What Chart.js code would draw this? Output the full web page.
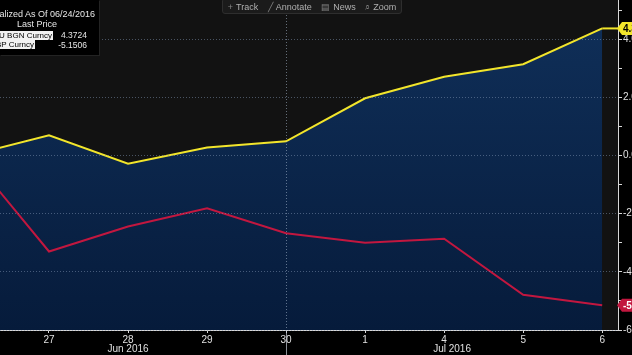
<!DOCTYPE html>
<html>
<head>
<meta charset="utf-8">
<script src="https://cdn.jsdelivr.net/npm/chart.js@4"></script>
<style>
html,body{margin:0;padding:0;background:#000;width:632px;height:355px;overflow:hidden;}
#wrap{position:relative;width:632px;height:355px;overflow:hidden;}
#c{position:absolute;left:0;top:0;}
.t{position:absolute;font:9px "Liberation Sans",Arial,sans-serif;color:#e6e6e6;white-space:nowrap;line-height:10px;}
.r{font-size:8.5px;}
.name{background:#f2f2f2;color:#000;padding:0 1px 0 0;line-height:9px;height:9px;font-size:8px;}
#legbox{position:absolute;left:0;top:0;width:99px;height:55px;background:#000;box-shadow:1px 1px 0 #232323;}
#toolbar{position:absolute;left:222px;top:-2px;width:180px;height:16px;background:#1b1b1b;border:1px solid #2e2e2e;border-radius:3px;display:flex;justify-content:space-around;align-items:center;font:9px "Liberation Sans",Arial,sans-serif;color:#b0b0b0;box-sizing:border-box;padding-top:2px;}
#toolbar span .ic{color:#858585;margin-right:3px;}
</style>
</head>
<body>
<div id="wrap">
<canvas id="c" width="632" height="355"></canvas>
<div id="legbox"></div>
<div class="t" id="lgTitle" style="right:537px;top:9px;"></div>
<div class="t" style="left:0;width:74px;text-align:center;top:19px;">Last Price</div>
<div class="t name" id="n0" style="right:579px;top:31px;"></div>
<div class="t r" id="v0" style="right:545px;top:30px;"></div>
<div class="t name" id="n1" style="right:597px;top:40px;"></div>
<div class="t r" id="v1" style="right:545px;top:40px;"></div>
<div id="toolbar"><span><span class="ic">+</span>Track</span><span><span class="ic">&#x2571;</span>Annotate</span><span><span class="ic">&#x25A4;</span>News</span><span><span class="ic">&#x2315;</span>Zoom</span></div>
</div>
<script>
// ---- data ----
const dates = ['2016-06-24','2016-06-27','2016-06-28','2016-06-29','2016-06-30','2016-07-01','2016-07-04','2016-07-05','2016-07-06'];
const seriesNames = ['XAU BGN Curncy','GBP Curncy'];
const xauValues = [0, 0.70, -0.28, 0.28, 0.49, 1.97, 2.71, 3.14, 4.3724];
const gbpValues = [0, -3.30, -2.44, -1.81, -2.67, -3.00, -2.86, -4.79, -5.1506];
const yTickValues = [-6,-5,-4,-3,-2,-1,0,1,2,3,4,5];
const normalizedAsOf = '06/24/2016';
const monthNames = ['Jan','Feb','Mar','Apr','May','Jun','Jul','Aug','Sep','Oct','Nov','Dec'];

const dayLabels = dates.map(d => String(+d.slice(8)));
const monthKeys = dates.map(d => d.slice(0,7));
const groups = [];
monthKeys.forEach((k,i) => {
  if (!groups.length || groups[groups.length-1].key !== k) groups.push({key:k, first:i, last:i});
  else groups[groups.length-1].last = i;
});
const monthEndIdx = groups.slice(0,-1).map(g => g.last);

document.getElementById('lgTitle').textContent = 'Normalized As Of ' + normalizedAsOf;
document.getElementById('n0').textContent = seriesNames[0];
document.getElementById('n1').textContent = seriesNames[1];
document.getElementById('v0').textContent = xauValues[xauValues.length-1].toFixed(4);
document.getElementById('v1').textContent = gbpValues[gbpValues.length-1].toFixed(4);

const FONT = '"Liberation Sans",Arial,sans-serif';
Chart.defaults.font.family = FONT;
Chart.defaults.font.size = 10;
Chart.defaults.color = '#e0e0e0';

const YEL = '#f2e52b';
const RED = '#c2173f';

const bgPlugin = {
  id:'bg',
  beforeDraw(chart){
    const {ctx, chartArea:a} = chart;
    ctx.save();
    ctx.fillStyle = '#000';
    ctx.fillRect(0,0,chart.width,chart.height);
    ctx.fillStyle = '#121212';
    ctx.fillRect(0,0,a.right,a.bottom);
    ctx.restore();
  }
};

const extraPlugin = {
  id:'extra',
  afterDraw(chart){
    const {ctx, chartArea:a, scales:{x,y}} = chart;
    ctx.save();
    ctx.strokeStyle = 'rgba(200,205,215,0.7)';
    ctx.lineWidth = 1;
    monthEndIdx.forEach(i => {
      const px = Math.round(x.getPixelForValue(i)) + 0.5;
      ctx.beginPath(); ctx.moveTo(px, a.bottom); ctx.lineTo(px, chart.height); ctx.stroke();
    });
    ctx.fillStyle = '#e0e0e0';
    ctx.font = '10px ' + FONT;
    ctx.textAlign = 'center'; ctx.textBaseline = 'middle';
    groups.forEach((g,gi) => {
      const start = gi === 0 ? g.first : groups[gi-1].last;
      const endPx = gi === groups.length-1 ? a.right : x.getPixelForValue(g.last);
      const cx = (x.getPixelForValue(start) + endPx) / 2;
      const [yy,mm] = g.key.split('-');
      ctx.fillText(monthNames[+mm-1] + ' ' + yy, cx, 349.5);
    });
    const n = dates.length - 1;
    const lastX = x.getPixelForValue(n);
    const yy0 = y.getPixelForValue(xauValues[n]);
    ctx.strokeStyle = YEL; ctx.lineWidth = 2;
    ctx.beginPath(); ctx.moveTo(lastX, yy0); ctx.lineTo(a.right, yy0); ctx.stroke();
    const tags = [[xauValues[n], YEL, '#000'], [gbpValues[n], RED, '#fff']];
    tags.forEach(([v, bg, fg]) => {
      const py = y.getPixelForValue(v);
      const L = a.right;
      ctx.fillStyle = bg;
      ctx.beginPath();
      ctx.moveTo(L - 1, py);
      ctx.lineTo(L + 4, py - 6.5);
      ctx.lineTo(L + 40, py - 6.5);
      ctx.lineTo(L + 40, py + 6.5);
      ctx.lineTo(L + 4, py + 6.5);
      ctx.closePath(); ctx.fill();
      ctx.fillStyle = fg;
      ctx.font = 'bold 10px ' + FONT;
      ctx.textAlign = 'left';
      ctx.fillText(v.toFixed(4), L + 5, py + 0.5);
    });
    ctx.restore();
  }
};

new Chart(document.getElementById('c'), {
  type:'line',
  data:{
    datasets:[
      {
        label: seriesNames[0],
        data: xauValues.map((v,i) => ({x:i, y:v})),
        borderColor: YEL,
        borderWidth: 2,
        pointRadius: 0,
        tension: 0,
        fill: 'start',
        backgroundColor: (c) => {
          const ch = c.chart; const a = ch.chartArea;
          if (!a) return '#0a2547';
          const g = ch.ctx.createLinearGradient(0, a.top, 0, a.bottom);
          g.addColorStop(0, '#10305a');
          g.addColorStop(1, '#061b3b');
          return g;
        }
      },
      {
        label: seriesNames[1],
        data: gbpValues.map((v,i) => ({x:i, y:v})),
        borderColor: RED,
        borderWidth: 2,
        pointRadius: 0,
        tension: 0,
        fill: false
      }
    ]
  },
  options:{
    responsive:false,
    animation:false,
    devicePixelRatio:1,
    layout:{padding:0},
    plugins:{
      legend:{display:false},
      tooltip:{enabled:false},
      filler:{drawTime:'beforeDatasetsDraw'}
    },
    scales:{
      x:{
        type:'linear',
        min:0.38,
        max:8.2,
        afterBuildTicks(s){ s.ticks = dates.map((d,i)=>({value:i})).filter(t => t.value >= s.min && t.value <= s.max); },
        afterFit(s){ s.height = 25; s.paddingLeft = 0; s.paddingRight = 0; },
        ticks:{
          autoSkip:false, maxRotation:0, padding:1, color:'#e0e0e0',
          callback:(v) => dayLabels[v] ?? ''
        },
        grid:{
          z:1,
          color:(c) => (c.tick && monthEndIdx.includes(c.tick.value)) ? 'rgba(170,185,205,0.55)' : 'rgba(0,0,0,0)',
          tickColor:'#d8d8d8',
          tickLength:3,
          tickBorderDash:[]
        },
        border:{display:true, color:'#d8d8d8', width:1, dash:[1,2], z:1}
      },
      y:{
        type:'linear',
        position:'right',
        min:-6,
        max:5.35,
        afterBuildTicks(s){ s.ticks = yTickValues.map(v => ({value:v})); },
        afterFit(s){ s.width = 14; s.paddingTop = 0; s.paddingBottom = 0; },
        ticks:{
          padding:1, color:'#e0e0e0', includeBounds:false,
          callback:(v) => (v % 2 === 0) ? v.toFixed(2) : ''
        },
        grid:{
          z:1,
          color:(c) => (c.tick && c.tick.value % 2 === 0) ? 'rgba(130,150,180,0.5)' : 'rgba(0,0,0,0)',
          tickColor:'#d8d8d8',
          tickLength:4,
          tickBorderDash:[]
        },
        border:{display:true, color:'#d8d8d8', width:1, dash:[1,2], z:1}
      }
    }
  },
  plugins:[bgPlugin, extraPlugin]
});
</script>
</body>
</html>
